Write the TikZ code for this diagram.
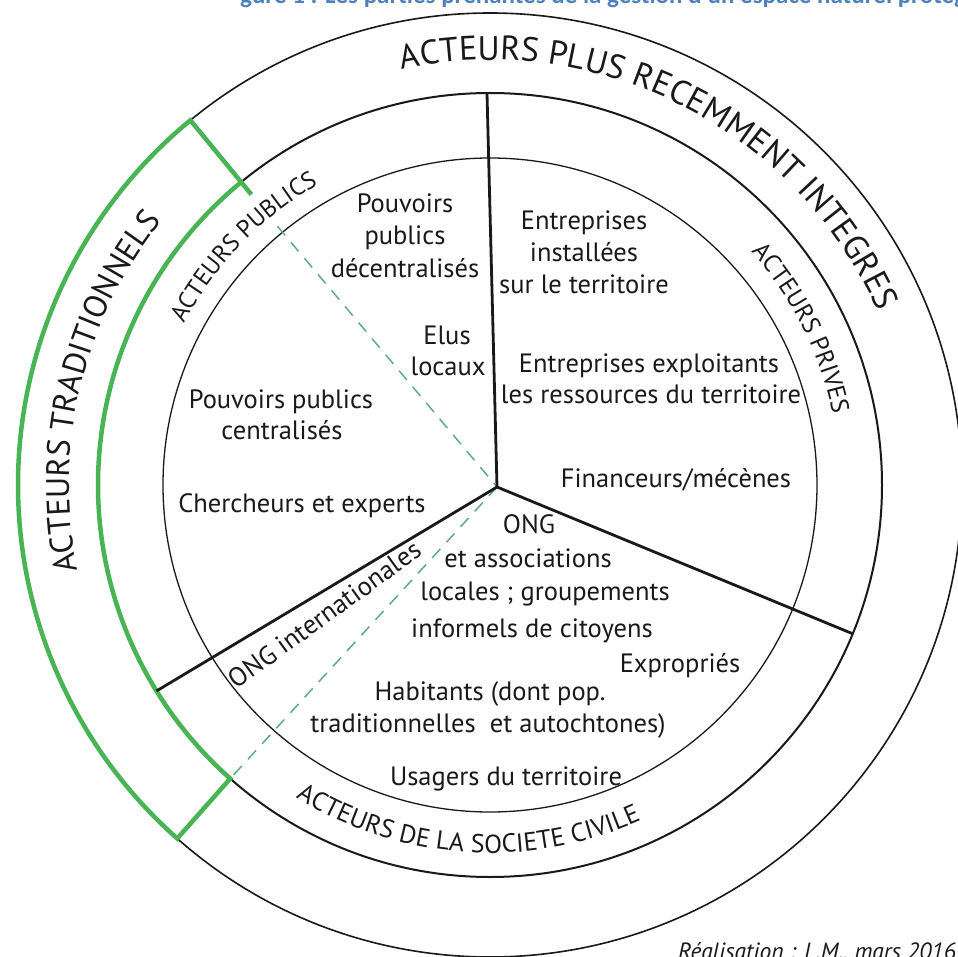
\documentclass[tikz,border=0pt]{standalone}
\usepackage{fontspec}
\setmainfont{PT Sans}
\newfontfamily\ttlfont{Carlito}
\usetikzlibrary{decorations.text}
\definecolor{grn}{RGB}{72,180,84}
\definecolor{dsh}{RGB}{95,170,140}
\definecolor{ttl}{RGB}{79,129,189}
\definecolor{ink}{RGB}{25,25,25}
\begin{document}
\begin{tikzpicture}[x=1pt,y=1pt,
  lbl/.style={font=\fontsize{26.5}{30}\selectfont, anchor=base, inner sep=0pt, text=ink},
  innerc/.style={line width=1.3pt, draw=ink},
  midc/.style={line width=2pt, draw=ink},
  outerc/.style={line width=1.6pt, draw=ink},
  spoke/.style={line width=2.8pt, draw=ink},
  grnline/.style={line width=4.5pt, draw=grn, line join=miter},
  dashline/.style={line width=1.5pt, draw=dsh, dash pattern=on 12pt off 9pt},
  curved/.style={decorate, decoration={text along path, text align=center, text color=ink}}
]
\clip (-490,-471) rectangle (468,485);
\useasboundingbox (-490,-471) rectangle (468,485);

% title (cut off at the top)
\node[font=\ttlfont\bfseries\fontsize{25}{29}\selectfont, text=ttl, anchor=base west, inner sep=0pt] (title) at (-250,481) {gure 1 : Les parties prenantes de la gestion d’un espace naturel protégé};

% circles
\coordinate (O) at (0,0);
\draw[innerc] (O) circle[radius=327];
\draw[midc] (O) circle[radius=392];
\draw[outerc] (O) circle[radius=472];

% green bracket
\draw[grnline] (129.4:376) -- (129.4:472) arc[start angle=129.4, end angle=228.5, radius=472]
   -- (228.5:392) arc[start angle=228.5, end angle=129.4, radius=392];

% dashed separators
\coordinate (J) at (7,-2);
\coordinate (Dtop) at (129.4:335);
\coordinate (Dbot) at (228.5:392);
\draw[dashline] (Dtop) -- (J);
\draw[dashline] (J) -- (Dbot);

% spokes
\coordinate (Stop) at (-3,392);
\coordinate (Sright) at (-22.3:392);
\coordinate (Sleft) at (211.7:392);
\draw[spoke] (J) -- (Stop);
\draw[spoke] (J) -- (Sright);
\draw[spoke] (J) -- (Sleft);

% curved ring labels
\path[curved, decoration={text={|\fontsize{34}{40}\selectfont|ACTEURS PLUS RECEMMENT INTEGRES}}]
  (110:425) arc[start angle=110, end angle=16, radius=425];
\path[curved, decoration={text={|\fontsize{32.5}{38}\selectfont|ACTEURS TRADITIONNELS}}]
  (200:421) arc[start angle=200, end angle=133, radius=421];
\path[curved, decoration={text={|\fontsize{24.5}{28}\selectfont|ACTEURS PUBLICS}}]
  (160:346) arc[start angle=160, end angle=112, radius=346];
\path[curved, decoration={text={|\fontsize{25}{28}\selectfont|ACTEURS PRIVES}}]
  (50:350) arc[start angle=50, end angle=3.4, radius=350];
\path[curved, decoration={text={|\fontsize{26}{30}\selectfont|ACTEURS DE LA SOCIETE CIVILE}}]
  (230:368) arc[start angle=230, end angle=302.4, radius=368];

% inner labels
\node[lbl] (pd1) at (-85,272) {Pouvoirs};
\node[lbl] (pd2) at (-85,240) {publics};
\node[lbl] (pd3) at (-85,207) {décentralisés};
\node[lbl] (el1) at (-43,141) {Elus};
\node[lbl] (el2) at (-42,110) {locaux};
\node[lbl] (pc1) at (-209,77) {Pouvoirs publics};
\node[lbl] (pc2) at (-208,46) {centralisés};
\node[lbl] (ch) at (-188,-27) {Chercheurs et experts};
\node[lbl] (ei1) at (94,255) {Entreprises};
\node[lbl] (ei2) at (94,223) {installées};
\node[lbl] (ei3) at (94,191) {sur le territoire};
\node[lbl] (ee1) at (159,113) {Entreprises exploitants};
\node[lbl] (ee2) at (161,82) {les ressources du territoire};
\node[lbl] (fin) at (186,-2) {Financeurs/mécènes};
\node[lbl] (ong1) at (39,-48) {ONG};
\node[lbl] (ong2) at (38,-82) {et associations};
\node[lbl] (ong3) at (55,-115) {locales ; groupements};
\node[lbl] (ong4) at (42,-152) {informels de citoyens};
\node[lbl] (exp) at (190,-187) {Expropriés};
\node[lbl] (hab1) at (0,-215) {Habitants (dont pop.};
\node[lbl] (hab2) at (-2,-247) {traditionnelles\ \ et autochtones)};
\node[lbl] (usa) at (16,-300) {Usagers du territoire};
\node[lbl, rotate=36] (ongi) at (-160,-137) {ONG internationales};

% credit (cut off at the bottom)
\node[font=\itshape\fontsize{23.5}{27}\selectfont, text=ink, anchor=base west, inner sep=0pt] (real) at (188,-474) {Réalisation : L.M., mars 2016};
\end{tikzpicture}
\end{document}
